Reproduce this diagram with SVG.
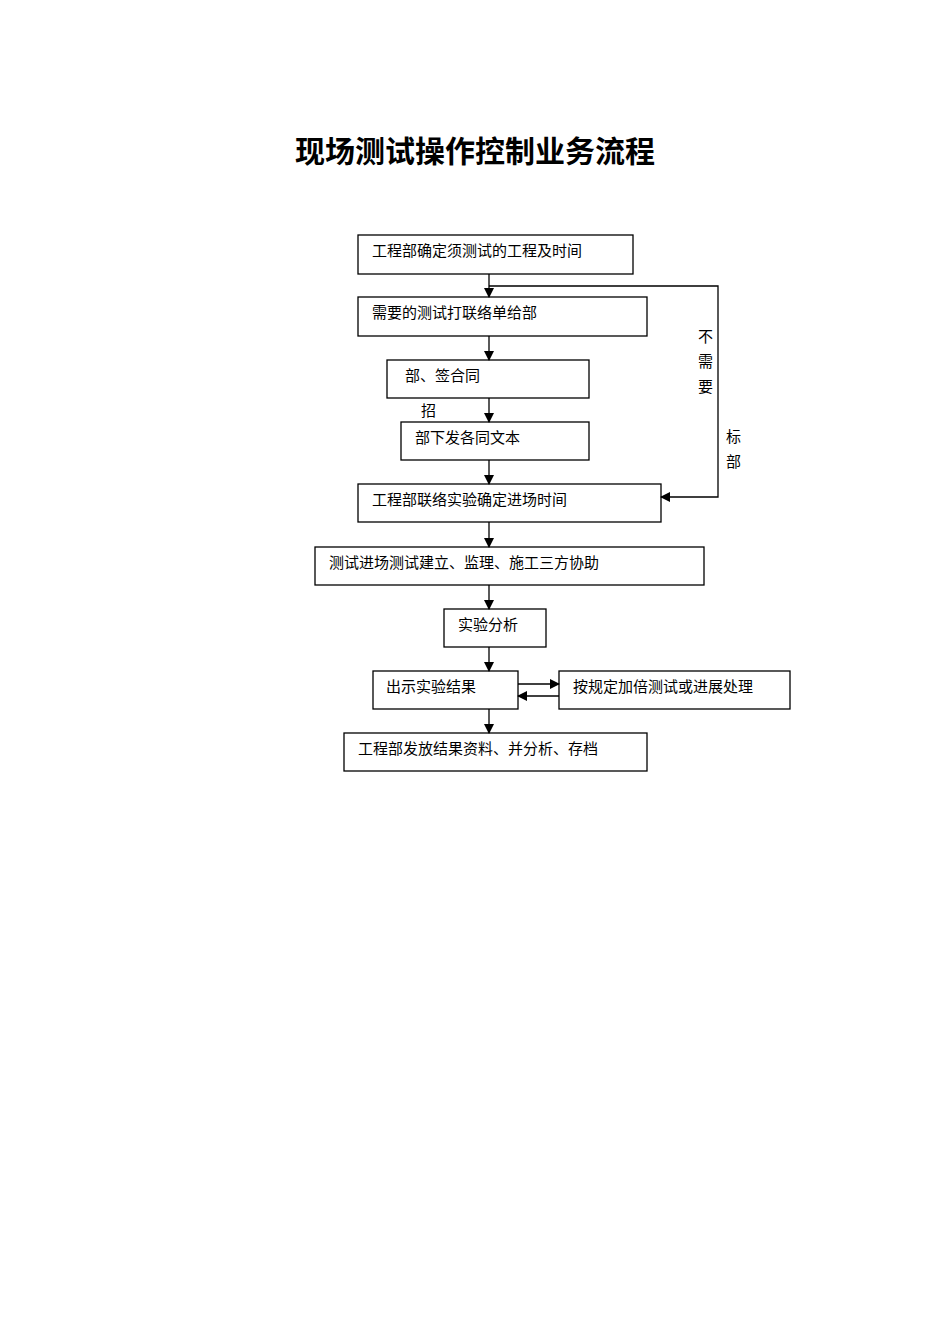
<svg xmlns="http://www.w3.org/2000/svg" width="950" height="1344" viewBox="0 0 950 1344">
<style>
rect{fill:#fff;stroke:#000;stroke-width:1.3}
text{font-family:"Noto Sans CJK SC","Liberation Sans",sans-serif;font-size:15px;fill:#000}
.c{fill:none;stroke:#000;stroke-width:1.3}
</style>
<defs><marker id="a" markerWidth="10" markerHeight="10" refX="9" refY="5" orient="auto" markerUnits="userSpaceOnUse"><path d="M0,0L10,5L0,10z" fill="#000"/></marker></defs>
<rect x="0" y="0" width="950" height="1344" style="stroke:none"/>
<text x="475" y="162" text-anchor="middle" style="font-size:30px;font-weight:bold">现场测试操作控制业务流程</text>
<g id="n1"><rect x="358" y="235" width="275" height="39"/><text x="372" y="256">工程部确定须测试的工程及时间</text></g>
<g id="n2"><rect x="358" y="297" width="289" height="39"/><text x="372" y="318">需要的测试打联络单给部</text></g>
<g id="n3"><rect x="387" y="360" width="202" height="38"/><text x="405" y="381">部、签合同</text></g>
<g id="n4"><rect x="401" y="422" width="188" height="38"/><text x="415" y="443">部下发各同文本</text></g>
<g id="n5"><rect x="358" y="484" width="303" height="38"/><text x="372" y="505">工程部联络实验确定进场时间</text></g>
<g id="n6"><rect x="315" y="547" width="389" height="38"/><text x="329" y="568">测试进场测试建立、监理、施工三方协助</text></g>
<g id="n7"><rect x="444" y="609" width="102" height="38"/><text x="458" y="630">实验分析</text></g>
<g id="n8"><rect x="373" y="671" width="145" height="38"/><text x="386" y="692">出示实验结果</text></g>
<g id="n9"><rect x="559" y="671" width="231" height="38"/><text x="573" y="692">按规定加倍测试或进展处理</text></g>
<g id="n10"><rect x="344" y="733" width="303" height="38"/><text x="358" y="754">工程部发放结果资料、并分析、存档</text></g>
<g id="labels">
<text x="421" y="416">招</text>
<text x="698" y="342">不</text><text x="698" y="367">需</text><text x="698" y="392">要</text>
<text x="726" y="442">标</text><text x="726" y="467">部</text>
</g>
<g id="connectors">
<path class="c" d="M489,274V297" marker-end="url(#a)"/>
<path class="c" d="M489,286H718V497H661" marker-end="url(#a)"/>
<path class="c" d="M489,336V360" marker-end="url(#a)"/>
<path class="c" d="M489,398V422" marker-end="url(#a)"/>
<path class="c" d="M489,460V484" marker-end="url(#a)"/>
<path class="c" d="M489,522V547" marker-end="url(#a)"/>
<path class="c" d="M489,585V609" marker-end="url(#a)"/>
<path class="c" d="M489,647V671" marker-end="url(#a)"/>
<path class="c" d="M489,709V733" marker-end="url(#a)"/>
<path class="c" d="M518,684H559" marker-end="url(#a)"/>
<path class="c" d="M559,696H518" marker-end="url(#a)"/>
</g>
</svg>
